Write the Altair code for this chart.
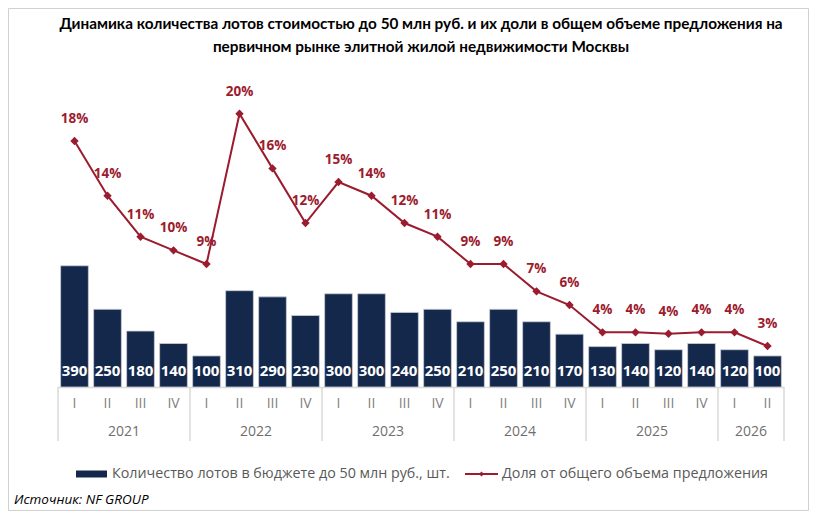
import altair as alt
import pandas as pd

quarters = ["I", "II", "III", "IV", "I", "II", "III", "IV", "I", "II", "III", "IV",
            "I", "II", "III", "IV", "I", "II", "III", "IV", "I", "II"]
years = ["2021"] * 4 + ["2022"] * 4 + ["2023"] * 4 + ["2024"] * 4 + ["2025"] * 4 + ["2026"] * 2
lots = [390, 250, 180, 140, 100, 310, 290, 230, 300, 300, 240, 250,
        210, 250, 210, 170, 130, 140, 120, 140, 120, 100]
share = [18, 14, 11, 10, 9, 20, 16, 12, 15, 14, 12, 11,
         9, 9, 7, 6, 4, 4, 3.9, 4, 4, 3]
share_labels = ["18%", "14%", "11%", "10%", "9%", "20%", "16%", "12%", "15%", "14%", "12%", "11%",
                "9%", "9%", "7%", "6%", "4%", "4%", "4%", "4%", "4%", "3%"]

title_lines = ["Динамика количества лотов стоимостью до 50 млн руб. и их доли в общем объеме предложения на",
               "первичном рынке элитной жилой недвижимости Москвы"]
legend_bar = "Количество лотов в бюджете до 50 млн руб., шт."
legend_line = "Доля от общего объема предложения"
source = "Источник: NF GROUP"

NAVY = "#14284b"
RED = "#9b1c2e"
GRAY = "#7f7f7f"

W, H = 726, 317

df = pd.DataFrame({
    "i": list(range(len(lots))),
    "q": quarters,
    "year": years,
    "lots": lots,
    "share": share,
    "slabel": share_labels,
})

ydf = df.groupby("year")["i"].agg(["min", "max"]).reset_index()
ydf["c"] = (ydf["min"] + ydf["max"]) / 2
bounds = pd.DataFrame({"b": [v - 0.5 for v in ydf["min"]] + [ydf["max"].iloc[-1] + 0.5]})

xs = alt.Scale(domain=[-0.5, len(lots) - 0.5], nice=False, zero=False)
yb = alt.Scale(domain=[0, 1020], nice=False)
yl = alt.Scale(domain=[0, 23.2], nice=False)

base = alt.Chart(df)

bars = base.transform_calculate(
    x0="datum.i - 0.42", x1="datum.i + 0.42", zero="0"
).mark_rect(
    fill=NAVY, stroke="#c9ced8", strokeWidth=0.8
).encode(
    x=alt.X("x0:Q", scale=xs, axis=None),
    x2="x1:Q",
    y=alt.Y("lots:Q", scale=yb, axis=None),
    y2="zero:Q",
)

bar_text = base.mark_text(
    color="white", font="Open Sans", fontWeight="bold", fontSize=15, baseline="middle", dy=-16
).encode(
    x=alt.X("i:Q", scale=xs, axis=None),
    y=alt.value(H),
    text="lots:Q",
)

line = base.mark_line(color=RED, strokeWidth=2).encode(
    x=alt.X("i:Q", scale=xs, axis=None),
    y=alt.Y("share:Q", scale=yl, axis=None),
)
pts = base.mark_point(shape="diamond", filled=True, color=RED, size=70, opacity=1).encode(
    x=alt.X("i:Q", scale=xs, axis=None),
    y=alt.Y("share:Q", scale=yl, axis=None),
)
pct_text = base.mark_text(
    color=RED, font="Open Sans", fontWeight="bold", fontSize=13.5, baseline="middle", dy=-22
).encode(
    x=alt.X("i:Q", scale=xs, axis=None),
    y=alt.Y("share:Q", scale=yl, axis=None),
    text="slabel:N",
)

q_text = base.mark_text(color=GRAY, font="Open Sans", fontSize=14, baseline="middle").encode(
    x=alt.X("i:Q", scale=xs, axis=None),
    y=alt.value(H + 17),
    text="q:N",
)

y_text = alt.Chart(ydf).mark_text(color="#6f6f6f", font="Open Sans", fontSize=14, baseline="middle").encode(
    x=alt.X("c:Q", scale=xs, axis=None),
    y=alt.value(H + 45),
    text="year:N",
)

seps = alt.Chart(bounds).mark_rule(color="#d9d9d9", strokeWidth=1.5).encode(
    x=alt.X("b:Q", scale=xs, axis=None),
    y=alt.value(H),
    y2=alt.value(H + 54),
)

one = alt.Chart(pd.DataFrame({"a": [0]}))
baseline = one.mark_rule(color="#d9d9d9", strokeWidth=1.5).encode(
    x=alt.value(0), x2=alt.value(W), y=alt.value(H + 0.5)
)

LY = 474 - 70
leg_sw = one.mark_rect(fill=NAVY).encode(
    x=alt.value(76 - 58), x2=alt.value(107 - 58), y=alt.value(LY - 3.5), y2=alt.value(LY + 3.5)
)
leg_t1 = one.mark_text(align="left", baseline="middle", font="Open Sans", fontSize=14.3, color="#595959").encode(
    x=alt.value(112 - 58), y=alt.value(LY), text=alt.value(legend_bar)
)
leg_ln = one.mark_rule(color=RED, strokeWidth=2).encode(
    x=alt.value(465 - 58), x2=alt.value(498 - 58), y=alt.value(LY)
)
leg_pt = one.mark_point(shape="diamond", filled=True, color=RED, size=25, opacity=1).encode(
    x=alt.value(481.5 - 58), y=alt.value(LY)
)
leg_t2 = one.mark_text(align="left", baseline="middle", font="Open Sans", fontSize=14.3, color="#595959").encode(
    x=alt.value(502 - 58), y=alt.value(LY), text=alt.value(legend_line)
)
src = one.mark_text(align="left", baseline="middle", font="Open Sans", fontSize=13.5, fontStyle="italic",
                    color="black").encode(
    x=alt.value(14 - 58), y=alt.value(500 - 70), text=alt.value(source)
)
frame = one.mark_rect(fill=None, stroke="#d0d0d0", strokeWidth=1).encode(
    x=alt.value(-50 + 0.5), x2=alt.value(W + 25 - 0.5), y=alt.value(-62 + 0.5), y2=alt.value(H + 124 - 0.5)
)

chart = alt.layer(
    frame, seps, baseline, bars, bar_text, line, pts, pct_text, q_text, y_text,
    leg_sw, leg_t1, leg_ln, leg_pt, leg_t2, src
).resolve_scale(y="independent").properties(
    width=W, height=H,
    background="white",
    title=alt.TitleParams(text=title_lines, font="Lato", fontSize=15.3, fontWeight="bold",
                          color="black", anchor="middle", lineHeight=23, offset=0, dy=47, frame="group"),
    autosize=alt.AutoSizeParams(type="none"),
    padding={"left": 50, "top": 62, "right": 25, "bottom": 124},
).configure_view(stroke=None)

chart.save("out.html", embed_options={"renderer": "svg", "actions": False})
